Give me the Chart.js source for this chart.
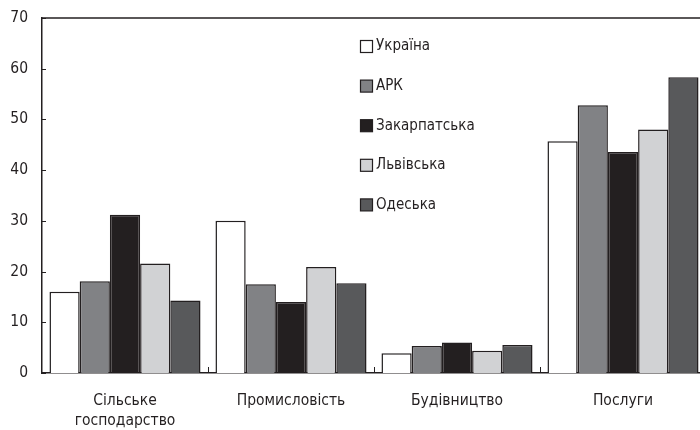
<!DOCTYPE html>
<html><head><meta charset="utf-8">
<script src="https://cdn.jsdelivr.net/npm/chart.js@4/dist/chart.umd.min.js"></script>
<style>html,body{margin:0;padding:0;overflow:hidden;background:#fff;width:700px;height:430px}#w{width:712px;height:430px}</style>
</head><body><div id="w"><canvas id="c" width="712" height="430"></canvas></div>
<script>
const categories = [["Сільське","господарство"],"Промисловість","Будівництво","Послуги"];
const seriesNames = ["Україна","АРК","Закарпатська","Львівська","Одеська"];
const ukraine = [16.0, 30.0, 3.9, 45.7];
const ark = [18.1, 17.5, 5.3, 52.8];
const zakarpatska = [31.2, 14.0, 6.0, 43.6];
const lvivska = [21.6, 20.9, 4.4, 48.0];
const odeska = [14.3, 17.7, 5.5, 58.3];
const yTicks = [0,10,20,30,40,50,60,70];
const colors = ["#ffffff","#818285","#231f20","#d1d2d4","#58595b"];
const FONT = "'DejaVu Sans Condensed','DejaVu Sans',sans-serif";
const values = [ukraine, ark, zakarpatska, lvivska, odeska];

const custom = {
  id:'custom',
  afterDraw(chart){
    const ctx = chart.ctx, ca = chart.chartArea, y = chart.scales.y, x = chart.scales.x;
    ctx.save();
    ctx.strokeStyle = '#231f20';
    ctx.lineWidth = 1.5;
    ctx.beginPath(); ctx.moveTo(ca.left, ca.top); ctx.lineTo(ca.right, ca.top); ctx.stroke();
    ctx.lineWidth = 1;
    yTicks.forEach(v=>{ const py = Math.round(y.getPixelForValue(v))+0.5; ctx.beginPath(); ctx.moveTo(ca.left, py); ctx.lineTo(ca.left+4, py); ctx.stroke(); });
    for(let i=1;i<categories.length;i++){
      const px = Math.round((x.getPixelForValue(i-1)+x.getPixelForValue(i))/2)+0.5;
      ctx.beginPath(); ctx.moveTo(px, ca.bottom); ctx.lineTo(px, ca.bottom-6); ctx.stroke();
    }
    ctx.font = "15px "+FONT;
    ctx.textBaseline = 'middle';
    chart.data.datasets.forEach((ds,i)=>{
      const cy = 46.5 + i*39.6;
      ctx.fillStyle = ds.backgroundColor;
      ctx.fillRect(360.5, cy-6, 12, 12);
      ctx.lineWidth = 1.2; ctx.strokeStyle = '#231f20';
      ctx.strokeRect(360.5, cy-6, 12, 12);
      ctx.fillStyle = '#231f20';
      ctx.fillText(ds.label, 376, cy);
    });
    ctx.restore();
  }
};

new Chart(document.getElementById('c'), {
  type:'bar',
  data:{
    labels: categories,
    datasets: seriesNames.map((n,i)=>({label:n, data:values[i], backgroundColor:colors[i], borderColor:'#231f20', borderWidth:1.5, categoryPercentage:0.91, barPercentage:1.0}))
  },
  options:{
    responsive:false, animation:false,
    layout:{padding:{top:18,right:6,left:0,bottom:0}},
    plugins:{legend:{display:false},tooltip:{enabled:false}},
    scales:{
      x:{
        afterFit(s){ s.height = 57; s.paddingLeft = 0; s.paddingRight = 0; },
        grid:{display:false, drawTicks:false},
        border:{display:true, color:'#231f20', width:1.5},
        ticks:{font:{size:15.5,family:FONT,lineHeight:1.3}, color:'#231f20', padding:18, maxRotation:0}
      },
      y:{
        min:0, max:70,
        afterFit(s){ s.width = 42; s.paddingTop = 0; s.paddingBottom = 0; },
        afterBuildTicks(s){ s.ticks = yTicks.map(v=>({value:v})); },
        grid:{display:false, drawTicks:false},
        border:{display:true, color:'#231f20', width:1.5},
        ticks:{font:{size:15.5,family:FONT}, color:'#231f20', padding:14}
      }
    }
  },
  plugins:[custom]
});
</script></body></html>
